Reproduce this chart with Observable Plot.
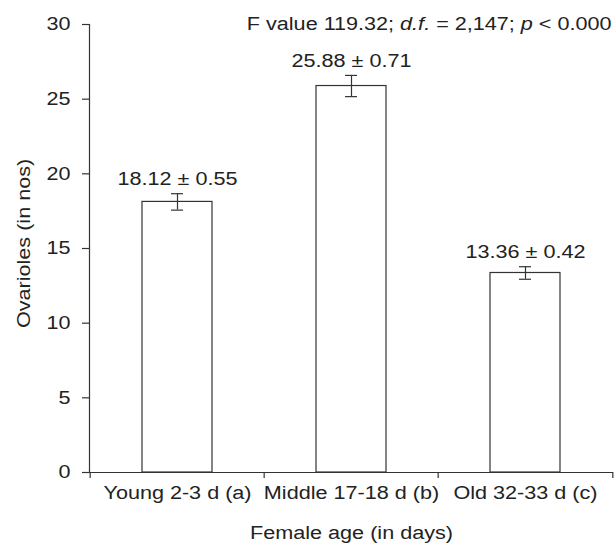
<!DOCTYPE html>
<html>
<head>
<meta charset="utf-8">
<script src="https://cdn.jsdelivr.net/npm/d3@7"></script>
<script src="https://cdn.jsdelivr.net/npm/@observablehq/plot@0.6"></script>
<style>
  html, body { margin: 0; padding: 0; background: #fff; }
  svg { font-family: "Liberation Sans", Arial, sans-serif; }
</style>
</head>
<body>
<div id="chart"></div>
<script>
const categories = ["Young 2-3 d (a)", "Middle 17-18 d (b)", "Old 32-33 d (c)"];
const means = [18.12, 25.88, 13.36];
const errors = [0.55, 0.71, 0.42];
const yTicks = [0, 5, 10, 15, 20, 25, 30];
const annotation = "F value 119.32; d.f. = 2,147; p < 0.000";

const data = categories.map((c, i) => ({cat: c, mean: means[i], err: errors[i],
  label: `${means[i].toFixed(2)} ± ${errors[i].toFixed(2)}`}));

const ink = "#333";
const fs = 18;
const step = (616 - 89 - 3) / categories.length;

const plot = Plot.plot({
  width: 616,
  height: 551,
  marginLeft: 89,
  marginRight: 3,
  marginTop: 24,
  marginBottom: 79,
  style: {fontSize: fs + "px", fontFamily: "Liberation Sans, Arial, sans-serif", color: "#222", background: "#fff"},
  x: {domain: categories, paddingInner: 0.6, paddingOuter: 0.3, label: null},
  y: {domain: [0, 30], label: null},
  marks: [
    Plot.barY(data, {x: "cat", y: "mean", fill: "white", stroke: ink, strokeWidth: 1.2}),
    Plot.ruleX(data, {x: "cat", y1: d => d.mean - d.err, y2: d => d.mean + d.err, stroke: ink, strokeWidth: 1.2}),
    Plot.tickY(data, {x: "cat", y: d => d.mean - d.err, stroke: ink, strokeWidth: 1.2, insetLeft: 29, insetRight: 29}),
    Plot.tickY(data, {x: "cat", y: d => d.mean + d.err, stroke: ink, strokeWidth: 1.2, insetLeft: 29, insetRight: 29}),
    Plot.text(data, {x: "cat", y: d => d.mean + d.err, text: "label", dy: -14, fill: "#222", fontSize: fs}),
    Plot.ruleY([0], {stroke: ink, strokeWidth: 1.2}),
    Plot.frame({anchor: "left", stroke: ink, strokeWidth: 1.2}),
    Plot.axisY({ticks: yTicks, tickSize: 7, tickPadding: 12, label: null, stroke: ink, strokeWidth: 1.2, fill: "#222", fontSize: fs}),
    Plot.axisX({tickSize: 0, tickPadding: 14, label: null, fill: "#222", fontSize: fs}),
    Plot.axisX({tickSize: 6, text: null, label: null, dx: -step / 2, stroke: ink, strokeWidth: 1.2}),
    Plot.axisX({ticks: [categories[categories.length - 1]], tickSize: 6, text: null, label: null, dx: step / 2, stroke: ink, strokeWidth: 1.2}),
    Plot.text(["Ovarioles (in nos)"], {frameAnchor: "left", rotate: -90, dx: -65, dy: -5, fill: "#222", fontSize: fs, className: "ylab"}),
    Plot.text(["Female age (in days)"], {frameAnchor: "bottom", dy: 66, fill: "#222", fontSize: fs}),
    Plot.text([annotation], {frameAnchor: "top-right", textAnchor: "end", lineAnchor: "middle", dx: -2, fill: "#222", fontSize: fs, className: "anno"})
  ]
});

document.getElementById("chart").appendChild(plot);

// Italicize parts of the annotation text
d3.select(plot).selectAll("g.anno text").each(function() {
  const t = d3.select(this);
  const parts = [["F value 119.32; ", false], ["d.f.", true], [" = 2,147; ", false], ["p", true], [" < 0.000", false]];
  t.text(null);
  parts.forEach(([s, it]) => {
    const ts = t.append("tspan").text(s);
    if (it) ts.attr("font-style", "italic");
  });
});

// The reference typeface is horizontally wider; stretch glyphs to match
const stretch = 1.2;
d3.select(plot).selectAll("text").each(function() {
  const len = this.getComputedTextLength();
  if (len > 0) {
    const L = len * stretch;
    this.setAttribute("textLength", L.toFixed(1));
    this.setAttribute("lengthAdjust", "spacingAndGlyphs");
    if (this.closest("g.ylab")) {
      this.setAttribute("text-anchor", "start");
      this.style.textAnchor = "start";
      this.setAttribute("x", (-L / 2).toFixed(1));
    }
  }
});
</script>
</body>
</html>
